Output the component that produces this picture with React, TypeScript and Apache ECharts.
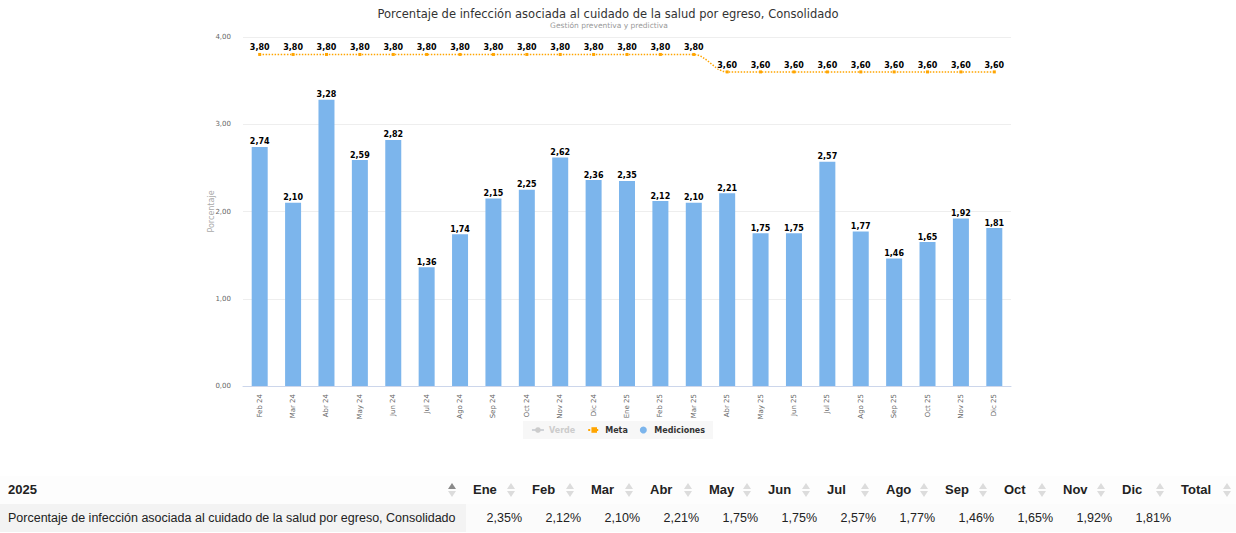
import React, { useEffect, useRef } from "react";
import * as echarts from "echarts";

const categories = [
  "Feb 24", "Mar 24", "Abr 24", "May 24", "Jun 24", "Jul 24", "Ago 24", "Sep 24",
  "Oct 24", "Nov 24", "Dic 24", "Ene 25", "Feb 25", "Mar 25", "Abr 25", "May 25",
  "Jun 25", "Jul 25", "Ago 25", "Sep 25", "Oct 25", "Nov 25", "Dic 25",
];
const mediciones = [
  2.74, 2.10, 3.28, 2.59, 2.82, 1.36, 1.74, 2.15, 2.25, 2.62, 2.36, 2.35,
  2.12, 2.10, 2.21, 1.75, 1.75, 2.57, 1.77, 1.46, 1.65, 1.92, 1.81,
];
const meta = [
  3.8, 3.8, 3.8, 3.8, 3.8, 3.8, 3.8, 3.8, 3.8, 3.8, 3.8, 3.8, 3.8, 3.8,
  3.6, 3.6, 3.6, 3.6, 3.6, 3.6, 3.6, 3.6, 3.6,
];
const verde: number[] = [];

const yTicks = { min: 0, max: 4, interval: 1 };

const tableYear = "2025";
const tableMonths = ["Ene", "Feb", "Mar", "Abr", "May", "Jun", "Jul", "Ago", "Sep", "Oct", "Nov", "Dic"];
const tableRowName = "Porcentaje de infección asociada al cuidado de la salud por egreso, Consolidado";
const tableValues = [2.35, 2.12, 2.10, 2.21, 1.75, 1.75, 2.57, 1.77, 1.46, 1.65, 1.92, 1.81];

const fmt = (v: number) => v.toFixed(2).replace(".", ",");
const FONT = "DejaVu Sans, Verdana, sans-serif";

function SortIcon({ active }: { active?: boolean }) {
  return (
    <span
      style={{
        display: "inline-block",
        verticalAlign: "middle",
        width: 8,
        height: 16,
        position: "relative",
      }}
    >
      <span
        style={{
          position: "absolute",
          left: 0,
          top: 1,
          width: 0,
          height: 0,
          borderLeft: "4px solid transparent",
          borderRight: "4px solid transparent",
          borderBottom: "6px solid " + (active ? "#8a8a8a" : "#dcdcdc"),
        }}
      />
      <span
        style={{
          position: "absolute",
          left: 0,
          top: 9,
          width: 0,
          height: 0,
          borderLeft: "4px solid transparent",
          borderRight: "4px solid transparent",
          borderTop: "6px solid #dcdcdc",
        }}
      />
    </span>
  );
}

function DataTable() {
  const colW = 59;
  const thBase: React.CSSProperties = {
    fontWeight: "bold",
    fontSize: 13,
    textAlign: "left",
    padding: "0 0 0 7px",
    height: 28,
    whiteSpace: "nowrap",
  };
  return (
    <table
      style={{
        position: "absolute",
        left: 0,
        top: 476,
        borderCollapse: "collapse",
        tableLayout: "fixed",
        width: 1236,
        fontFamily: "Liberation Sans, Arial, sans-serif",
        color: "#222",
      }}
    >
      <colgroup>
        <col style={{ width: 466 }} />
        {tableMonths.map((m) => (
          <col key={m} style={{ width: colW }} />
        ))}
        <col style={{ width: 1236 - 466 - colW * 12 }} />
      </colgroup>
      <thead>
        <tr style={{ background: "#fdfdfd" }}>
          <th style={{ ...thBase, paddingLeft: 8 }}>
            <span style={{ display: "inline-block", width: 440 }}>{tableYear}</span>
            <SortIcon active />
          </th>
          {tableMonths.map((m) => (
            <th key={m} style={thBase}>
              <span style={{ display: "inline-block", width: 34 }}>{m}</span>
              <SortIcon />
            </th>
          ))}
          <th style={thBase}>
            <span style={{ display: "inline-block", width: 42 }}>Total</span>
            <SortIcon />
          </th>
        </tr>
      </thead>
      <tbody>
        <tr style={{ background: "#fbfbfb" }}>
          <td
            style={{
              fontSize: 12.5,
              padding: "0 0 0 8px",
              height: 28,
              background: "#f3f3f3",
              whiteSpace: "nowrap",
            }}
          >
            {tableRowName}
          </td>
          {tableValues.map((v, i) => (
            <td key={i} style={{ fontSize: 12.5, textAlign: "right", paddingRight: 3, whiteSpace: "nowrap" }}>
              {fmt(v)}%
            </td>
          ))}
          <td />
        </tr>
      </tbody>
    </table>
  );
}

export default function App() {
  const ref = useRef<HTMLDivElement>(null);
  useEffect(() => {
    if (!ref.current) return;
    const chart = echarts.init(ref.current, undefined, { renderer: "svg" });
    const labelStyle = {
      show: true,
      position: "top",
      distance: 1,
      fontSize: 8,
      fontWeight: "bold",
      color: "#000",
      textBorderColor: "#fff",
      textBorderWidth: 1.5,
      formatter: (p: any) => fmt(p.value),
    };
    chart.setOption({
      animation: false,
      textStyle: { fontFamily: FONT },
      title: [
        {
          text: "Porcentaje de infección asociada al cuidado de la salud por egreso, Consolidado",
          left: 603,
          top: 3,
          textAlign: "center",
          textStyle: { fontSize: 11.5, fontWeight: "normal", color: "#333", fontFamily: FONT },
        },
        {
          text: "Gestión preventiva y predictiva",
          left: 604,
          top: 16,
          textAlign: "center",
          textStyle: { fontSize: 7.5, fontWeight: "normal", color: "#999", fontFamily: FONT },
        },
      ],
      legend: {
        left: "center",
        top: 421,
        padding: [5, 8, 5, 8],
        backgroundColor: "#f7f7f7",
        itemWidth: 12,
        itemHeight: 7,
        itemGap: 12,
        textStyle: { fontSize: 8, fontWeight: "bold", color: "#333", fontFamily: FONT },
        inactiveColor: "#cccccc",
        selected: { Verde: false },
        data: [
          { name: "Verde" },
          { name: "Meta" },
          { name: "Mediciones", icon: "circle" },
        ],
      },
      grid: { left: 243, right: 225, top: 37, bottom: 64, containLabel: false },
      xAxis: {
        type: "category",
        data: categories,
        axisLine: { lineStyle: { color: "#ccd6eb" } },
        axisTick: { show: false },
        axisLabel: { rotate: 90, fontSize: 7, color: "#666", margin: 8, interval: 0 },
      },
      yAxis: {
        type: "value",
        min: yTicks.min,
        max: yTicks.max,
        interval: yTicks.interval,
        name: "Porcentaje",
        nameLocation: "middle",
        nameGap: 28,
        nameMoveOverlap: false,
        nameTextStyle: { fontSize: 8, color: "#aaa" },
        axisLabel: { fontSize: 7, color: "#666", formatter: (v: number) => fmt(v), margin: 12 },
        splitLine: { lineStyle: { color: "#eeeeee" } },
        axisLine: { show: false },
        axisTick: { show: false },
      },
      series: [
        {
          name: "Verde",
          type: "line",
          data: verde,
          color: "#90ed7d",
          symbol: "circle",
          symbolSize: 3,
          lineStyle: { width: 1 },
        },
        {
          name: "Meta",
          type: "line",
          data: meta,
          smooth: 0.35,
          color: "#ffa500",
          symbol: "rect",
          symbolSize: 3,
          lineStyle: { type: "dotted", width: 1.5, color: "#ffa500" },
          itemStyle: { color: "#ffa500" },
          label: labelStyle,
          z: 3,
        },
        {
          name: "Mediciones",
          type: "bar",
          data: mediciones,
          barWidth: 16,
          color: "#7cb5ec",
          itemStyle: { color: "#7cb5ec" },
          label: labelStyle,
        },
      ],
    });
    return () => chart.dispose();
  }, []);

  return (
    <div
      style={{
        position: "fixed",
        left: 0,
        top: 0,
        width: 1236,
        height: 533,
        background: "#fff",
        overflow: "hidden",
      }}
    >
      <div ref={ref} style={{ position: "absolute", left: 0, top: 0, width: 1236, height: 450 }} />
      <DataTable />
    </div>
  );
}
